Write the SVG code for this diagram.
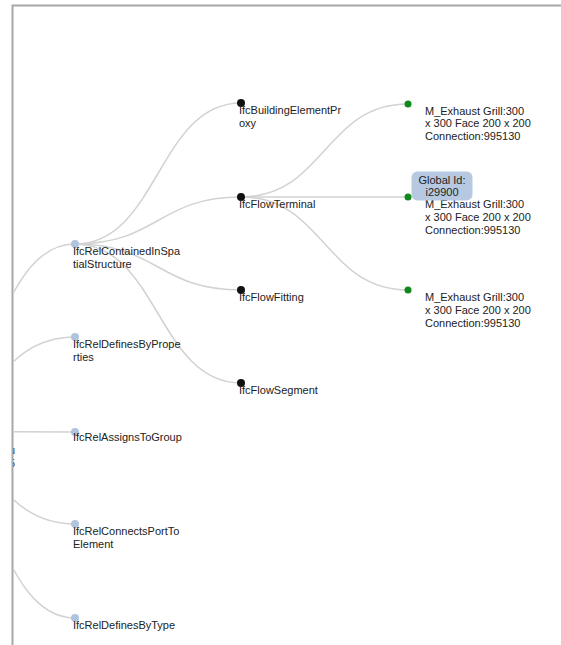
<svg xmlns="http://www.w3.org/2000/svg" width="561" height="645" viewBox="0 0 561 645">
<style>
.link{fill:none;stroke:#d2d2d2;stroke-width:1.5}
.t{font-family:"Liberation Sans",Arial,sans-serif;font-size:11px;fill:#222}
.n1{fill:#b0c4de}
.n2{fill:#111}
.n3{fill:#0f8a1a}
.tip{fill:#b0c4de;opacity:0.92}
</style>
<defs>
<clipPath id="frameclip"><rect x="13" y="6" width="560" height="650"/></clipPath>
</defs>
<rect x="0" y="0" width="561" height="645" fill="#fff"/>
<rect x="12.5" y="5.5" width="600" height="700" fill="#fff" stroke="#a8a8a8" stroke-width="2"/>
<g id="connectors" clip-path="url(#frameclip)">
<path class="link" d="M-91,431C-8,431 -8,244 75,244"/>
<path class="link" d="M-91,431C-8,431 -8,337 75,337"/>
<path class="link" d="M-91,431C-8,431 -8,432 75,432"/>
<path class="link" d="M-91,431C-8,431 -8,524 75,524"/>
<path class="link" d="M-91,431C-8,431 -8,618 75,618"/>
<path class="link" d="M75,244C158,244 158,103 241,103"/>
<path class="link" d="M75,244C158,244 158,197 241,197"/>
<path class="link" d="M75,244C158,244 158,290 241,290"/>
<path class="link" d="M75,244C158,244 158,383 241,383"/>
<path class="link" d="M241,197C324.5,197 324.5,104 408,104"/>
<path class="link" d="M241,197C324.5,197 324.5,197 408,197"/>
<path class="link" d="M241,197C324.5,197 324.5,290 408,290"/>
</g>
<g id="root" clip-path="url(#frameclip)">
<text class="t" x="9" y="454" style="fill:#3a4a6a">u</text>
<text class="t" x="9" y="467" style="fill:#3a4a6a">5</text>
</g>
<g id="n-contained"><circle class="n1" cx="75" cy="244" r="4"/><text class="t" x="73" y="255">IfcRelContainedInSpa</text><text class="t" x="73" y="268">tialStructure</text></g>
<g id="n-defprops"><circle class="n1" cx="75" cy="337" r="4"/><text class="t" x="73" y="348">IfcRelDefinesByPrope</text><text class="t" x="73" y="361">rties</text></g>
<g id="n-assigns"><circle class="n1" cx="75" cy="432" r="4"/><text class="t" x="73" y="441">IfcRelAssignsToGroup</text></g>
<g id="n-connects"><circle class="n1" cx="75" cy="524" r="4"/><text class="t" x="73" y="535">IfcRelConnectsPortTo</text><text class="t" x="73" y="548">Element</text></g>
<g id="n-deftype"><circle class="n1" cx="75" cy="618" r="4"/><text class="t" x="73" y="629">IfcRelDefinesByType</text></g>
<g id="n-proxy"><circle class="n2" cx="241" cy="103" r="4"/><text class="t" x="239" y="114">IfcBuildingElementPr</text><text class="t" x="239" y="127">oxy</text></g>
<g id="n-terminal"><circle class="n2" cx="241" cy="197" r="4"/><text class="t" x="239" y="208">IfcFlowTerminal</text></g>
<g id="n-fitting"><circle class="n2" cx="241" cy="290" r="4"/><text class="t" x="239" y="301">IfcFlowFitting</text></g>
<g id="n-segment"><circle class="n2" cx="241" cy="383" r="4"/><text class="t" x="239" y="394">IfcFlowSegment</text></g>
<g id="n-grill1"><circle class="n3" cx="408" cy="104" r="3.5"/><text class="t" x="425" y="114.5">M_Exhaust Grill:300</text><text class="t" x="425" y="127">x 300 Face 200 x 200</text><text class="t" x="425" y="140">Connection:995130</text></g>
<g id="n-grill2"><circle class="n3" cx="408" cy="197" r="3.5"/><text class="t" x="425" y="207.5">M_Exhaust Grill:300</text><text class="t" x="425" y="220.5">x 300 Face 200 x 200</text><text class="t" x="425" y="233.5">Connection:995130</text></g>
<g id="n-grill3"><circle class="n3" cx="408" cy="290" r="3.5"/><text class="t" x="425" y="300.5">M_Exhaust Grill:300</text><text class="t" x="425" y="313.5">x 300 Face 200 x 200</text><text class="t" x="425" y="326.5">Connection:995130</text></g>
<g id="tooltip"><rect class="tip" x="411.5" y="171.5" width="61" height="29" rx="6"/><text class="t" x="442" y="183.5" text-anchor="middle">Global Id:</text><text class="t" x="442" y="196" text-anchor="middle">i29900</text></g>
</svg>
